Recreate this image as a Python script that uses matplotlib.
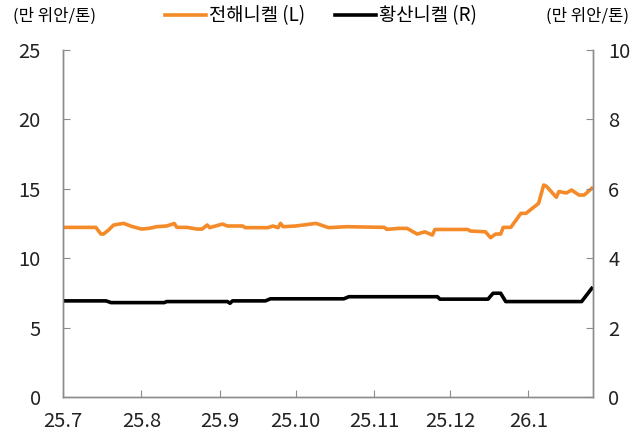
import matplotlib.pyplot as plt
import numpy as np
import pandas as pd

plt.rcParams['font.family'] = ['Noto Sans CJK KR', 'DejaVu Sans']

# 전해니켈 (L), 만 위안/톤
ni_dates = ['2025-07-01', '2025-07-14', '2025-07-16', '2025-07-17', '2025-07-19', '2025-07-21',
            '2025-07-25', '2025-07-28', '2025-08-01', '2025-08-04', '2025-08-07', '2025-08-11',
            '2025-08-14', '2025-08-15', '2025-08-19', '2025-08-23', '2025-08-25', '2025-08-27',
            '2025-08-28', '2025-09-02', '2025-09-04', '2025-09-10', '2025-09-11', '2025-09-20',
            '2025-09-22', '2025-09-24', '2025-09-25', '2025-09-26', '2025-10-01', '2025-10-09',
            '2025-10-14', '2025-10-21', '2025-11-05', '2025-11-06', '2025-11-11', '2025-11-14',
            '2025-11-18', '2025-11-21', '2025-11-24', '2025-11-25', '2025-12-08', '2025-12-09',
            '2025-12-15', '2025-12-17', '2025-12-19', '2025-12-21', '2025-12-22', '2025-12-25',
            '2025-12-29', '2025-12-31', '2026-01-05', '2026-01-07', '2026-01-08', '2026-01-12',
            '2026-01-13', '2026-01-16', '2026-01-18', '2026-01-21', '2026-01-23', '2026-01-26']
ni_vals = [12.22, 12.22, 11.74, 11.74, 12.03, 12.39,
           12.51, 12.30, 12.10, 12.15, 12.27, 12.32,
           12.50, 12.22, 12.22, 12.10, 12.10, 12.39,
           12.20, 12.46, 12.32, 12.32, 12.20, 12.20,
           12.32, 12.20, 12.51, 12.27, 12.32, 12.51,
           12.20, 12.27, 12.22, 12.08, 12.15, 12.15,
           11.74, 11.90, 11.67, 12.07, 12.07, 11.96,
           11.90, 11.48, 11.74, 11.74, 12.22, 12.22,
           13.23, 13.23, 13.95, 15.27, 15.20, 14.39,
           14.80, 14.70, 14.91, 14.55, 14.55, 15.03]

# 황산니켈 (R), 만 위안/톤
ns_dates = ['2025-07-01', '2025-07-18', '2025-07-20', '2025-08-10', '2025-08-11', '2025-09-04',
            '2025-09-05', '2025-09-06', '2025-09-19', '2025-09-21', '2025-10-20', '2025-10-22',
            '2025-11-26', '2025-11-27', '2025-12-16', '2025-12-18', '2025-12-21', '2025-12-23',
            '2026-01-22', '2026-01-26']
ns_vals = [2.77, 2.77, 2.72, 2.72, 2.75, 2.75,
           2.70, 2.77, 2.77, 2.83, 2.83, 2.89,
           2.89, 2.82, 2.82, 2.99, 2.99, 2.75,
           2.75, 3.13]

month_ticks = ['2025-07-01', '2025-08-01', '2025-09-01', '2025-10-01', '2025-11-01',
               '2025-12-01', '2026-01-01']
month_labels = ['25.7', '25.8', '25.9', '25.10', '25.11', '25.12', '26.1']

orange = '#F58A29'
spine_c = '#8c8c8c'

fig = plt.figure(figsize=(6.42, 4.32), dpi=100)
ax = fig.add_axes([63/642, 1-397/432, 530/642, 347/432])
ax2 = ax.twinx()

l1, = ax.plot(pd.to_datetime(ni_dates), ni_vals, color=orange, lw=2.6, label='전해니켈 (L)')
l2, = ax2.plot(pd.to_datetime(ns_dates), ns_vals, color='black', lw=2.6, label='황산니켈 (R)')

ax.set_ylim(0, 25)
ax.set_yticks(np.arange(0, 26, 5))
ax2.set_ylim(0, 10)
ax2.set_yticks(np.arange(0, 11, 2))
ax.set_xlim(pd.Timestamp('2025-07-01'), pd.Timestamp('2026-01-26 12:00'))
ax.set_xticks(pd.to_datetime(month_ticks))
ax.set_xticklabels(month_labels)

for a in (ax, ax2):
    a.spines['top'].set_visible(False)
    for s in ('left', 'right', 'bottom'):
        a.spines[s].set_color(spine_c)
        a.spines[s].set_linewidth(1.0)
    a.tick_params(direction='in', length=5, color=spine_c, labelsize=14.5, labelcolor='#222222')
ax.tick_params(axis='y', pad=16)
ax.tick_params(axis='x', pad=10)
ax2.tick_params(axis='y', pad=11)

fig.text(13/642, 1-16/432, '(만 위안/톤)', fontsize=12, ha='left', va='center')
fig.text(629/642, 1-16/432, '(만 위안/톤)', fontsize=12, ha='right', va='center')
fig.legend(handles=[l1, l2], loc='center', bbox_to_anchor=(0.5, 1-16/432), ncol=2,
           frameon=False, fontsize=13.5, handlelength=2.2, handletextpad=0.15,
           columnspacing=1.6)

fig.savefig('out.png', dpi=100)
